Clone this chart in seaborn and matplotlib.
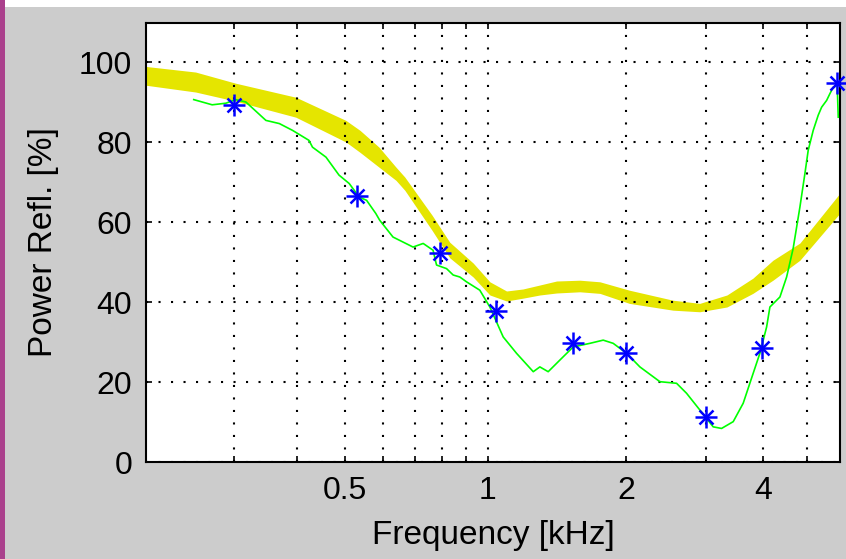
import numpy as np
import pandas as pd
import matplotlib
matplotlib.use("Agg")
import matplotlib.pyplot as plt
from matplotlib.patches import Rectangle
from matplotlib.ticker import FixedLocator, FixedFormatter, NullFormatter
import seaborn as sns

# measured reflectance (green trace), frequency in kHz, power reflectance in %
freq_meas = [0.251, 0.272, 0.289, 0.302, 0.316, 0.346, 0.368, 0.391, 0.422, 0.429,
             0.457, 0.486, 0.510, 0.535, 0.554, 0.579, 0.590, 0.629, 0.693, 0.728,
             0.764, 0.777, 0.816, 0.843, 0.871, 0.900, 0.961, 1.010, 1.079, 1.153,
             1.253, 1.295, 1.350, 1.431, 1.530, 1.664, 1.779, 1.871, 2.002, 2.141,
             2.369, 2.578, 2.712, 2.902, 3.105, 3.240, 3.438, 3.617, 3.806, 3.938,
             4.076, 4.145, 4.362, 4.514, 4.668, 4.831, 4.956, 5.040, 5.171, 5.305,
             5.398, 5.538, 5.632, 5.728, 5.846, 5.877]
refl_meas = [90.7, 89.4, 89.8, 90.7, 90.1, 85.5, 84.7, 83.0, 80.5, 78.8,
             76.3, 71.8, 69.7, 66.3, 65.5, 62.2, 60.5, 56.3, 53.8, 54.7,
             53.0, 49.3, 48.4, 46.8, 46.3, 45.1, 43.0, 38.8, 31.3, 27.2,
             22.6, 23.8, 22.6, 25.5, 28.8, 29.7, 30.5, 29.7, 27.2, 23.8,
             20.1, 19.7, 17.2, 13.0, 8.8, 8.4, 10.1, 14.7, 22.2, 27.2,
             33.8, 38.8, 41.3, 46.3, 53.5, 63.8, 72.2, 78.0, 83.0, 86.8,
             88.8, 90.5, 92.2, 93.8, 94.3, 86.3]

# star markers
freq_star = [0.30, 0.529, 0.79, 1.04, 1.53, 2.0, 3.0, 3.99, 5.85]
refl_star = [89.3, 66.6, 52.4, 37.8, 29.9, 27.2, 11.3, 28.6, 94.8]

# yellow normative band (lower / upper edge)
norm_f = [0.205, 0.253, 0.302, 0.397, 0.502, 0.537, 0.588, 0.638, 0.666, 0.760,
          0.829, 0.930, 1.010, 1.097, 1.190, 1.295, 1.408, 1.582, 1.750, 2.030,
          2.530, 2.900, 3.330, 3.800, 4.210, 4.830, 5.930]
norm_lo = [94.3, 92.6, 90.3, 86.3, 80.1, 77.5, 73.8, 70.5, 68.0, 58.0,
           51.1, 46.3, 41.8, 40.3, 41.0, 41.8, 42.3, 42.6, 42.2, 39.7,
           38.0, 37.6, 38.8, 42.2, 45.5, 50.5, 62.3]
norm_hi = [99.0, 97.6, 94.8, 91.3, 85.5, 83.0, 78.8, 73.8, 71.3, 61.8,
           55.0, 49.8, 45.1, 42.8, 43.3, 44.3, 45.3, 45.5, 45.1, 43.0,
           40.5, 39.7, 41.8, 46.0, 50.5, 54.8, 67.3]

major_ticks = [0.5, 1, 2, 4]
major_labels = ['0.5', '1', '2', '4']
minor_ticks = [0.3, 0.4, 0.6, 0.7, 0.8, 0.9, 3, 5]
y_ticks = [0, 20, 40, 60, 80, 100]

plt.rcParams['font.family'] = ['Liberation Sans', 'DejaVu Sans']

df_meas = pd.DataFrame({'f': freq_meas, 'r': refl_meas})
df_star = pd.DataFrame({'f': freq_star, 'r': refl_star})

fig = plt.figure(figsize=(8.46, 5.59), dpi=100, facecolor='#cccccc')
ax = fig.add_axes([146 / 846, 97 / 559, 694 / 846, 439.5 / 559])
ax.set_facecolor('white')

# frequency axis is log-like (log of f minus small offset)
off = 0.04
def fwd(x):
    return np.log(np.clip(np.asarray(x, dtype=float) - off, 1e-9, None))
def inv(y):
    return np.exp(y) + off
ax.set_xscale('function', functions=(fwd, inv))

ax.fill_between(norm_f, norm_lo, norm_hi, color='#e5e500', lw=0, zorder=1)
sns.lineplot(data=df_meas, x='f', y='r', sort=False, estimator=None,
             color='#00ff00', lw=1.2, ax=ax, zorder=3)
for mk, ms in [('+', 16), ('x', 10)]:
    sns.lineplot(data=df_star, x='f', y='r', sort=False, estimator=None,
                 color='#0000ff', marker=mk, markersize=ms, mew=1.8,
                 markeredgecolor='#0000ff', markerfacecolor='#0000ff',
                 linestyle='', ax=ax, zorder=4, clip_on=False)

ax.set_xlim(0.205, 5.93)
ax.set_ylim(0, 110)
ax.xaxis.set_major_locator(FixedLocator(major_ticks))
ax.xaxis.set_major_formatter(FixedFormatter(major_labels))
ax.xaxis.set_minor_locator(FixedLocator(minor_ticks))
ax.xaxis.set_minor_formatter(NullFormatter())
ax.set_yticks(y_ticks)

ax.set_axisbelow(False)
grid_kw = dict(color='black', linestyle=(0, (1, 5)), linewidth=1.5)
ax.grid(True, which='both', axis='x', **grid_kw)
ax.grid(True, which='major', axis='y', **grid_kw)

ax.tick_params(which='both', direction='in', length=4.5, width=1.2,
               top=True, right=True, labelsize=23, colors='black')
ax.tick_params(axis='x', pad=10)
ax.tick_params(axis='y', pad=10)
for s in ax.spines.values():
    s.set_linewidth(1.5)
    s.set_color('black')

ax.set_xlabel('Frequency [kHz]', fontsize=24, labelpad=10)
ax.set_ylabel('Power Refl. [%]', fontsize=24, labelpad=14)

# white strip at top and magenta strip at left edge
fig.patches.append(Rectangle((0, 1 - 7 / 559), 1, 7 / 559, transform=fig.transFigure,
                             facecolor='white', edgecolor='none', zorder=-1))
fig.patches.append(Rectangle((0, 0), 5 / 846, 1, transform=fig.transFigure,
                             facecolor='#aa408c', edgecolor='none', zorder=-1))

fig.savefig('out.png', dpi=100, facecolor=fig.get_facecolor())
